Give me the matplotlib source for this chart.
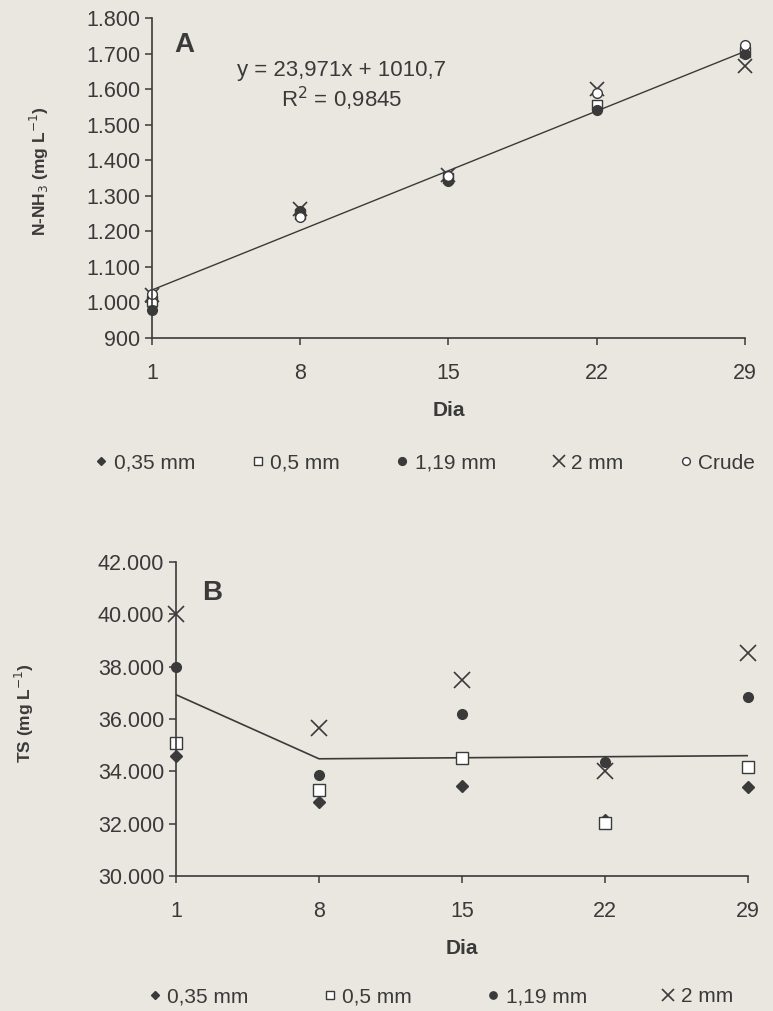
import numpy as np
import matplotlib.pyplot as plt
from matplotlib.ticker import FuncFormatter

plt.rcParams['font.family'] = ['Liberation Sans', 'DejaVu Sans']

days = [1, 8, 15, 22, 29]

# Panel A: N-NH3 (mg/L)
nh3_035 = [990, 1255, 1350, 1550, 1700]
nh3_05 = [1005, 1250, 1350, 1555, 1705]
nh3_119 = [980, 1258, 1342, 1541, 1700]
nh3_2 = [1020, 1264, 1357, 1600, 1665]
nh3_crude = [1025, 1240, 1355, 1588, 1725]
trend_days = [1, 29]
trend_a = [1035, 1706]

# Panel B: TS (mg/L)
ts_035 = [34580, 32810, 33450, 32150, 33390]
ts_05 = [35070, 33270, 34520, 32030, 34150]
ts_119 = [38000, 33850, 36190, 34350, 36860]
ts_2 = [40000, 35650, 37480, 34000, 38540]
line_b = [36930, 34480, 34520, 34560, 34600]

bg = '#e9e7df'
ink = '#3a3a3a'

fig = plt.figure(figsize=(7.73, 10.11), dpi=100, facecolor=bg)


def thousands(v, pos):
    return f'{int(round(v)):,}'.replace(',', '.')


def style_axes(ax):
    ax.set_facecolor(bg)
    for s in ['top', 'right']:
        ax.spines[s].set_visible(False)
    for s in ['left', 'bottom']:
        ax.spines[s].set_color(ink)
        ax.spines[s].set_linewidth(1.2)
    ax.tick_params(colors=ink, labelsize=15.5, length=5, width=1.1)
    ax.tick_params(axis='x', pad=13)
    ax.yaxis.set_major_formatter(FuncFormatter(thousands))
    ax.set_xticks(days)
    ax.set_xlim(1, 29)
    ax.set_xlabel('Dia', fontsize=15, fontweight='bold', color=ink, labelpad=12)


mk = dict(linestyle='none', color=ink, clip_on=False)
leg_kw = dict(loc='center', frameon=False, fontsize=15, handlelength=0.6,
              handletextpad=0.3, labelcolor=ink)

# ---- A ----
ax1 = fig.add_axes([0.1966, 0.6657, 0.767, 0.3165])
style_axes(ax1)
ax1.set_ylim(900, 1800)
ax1.set_yticks(np.arange(900, 1801, 100))
ax1.plot(trend_days, trend_a, color=ink, linewidth=1.0)
h1 = ax1.plot(days, nh3_035, marker='D', markersize=5, label='0,35 mm', **mk)[0]
h2 = ax1.plot(days, nh3_05, marker='s', markersize=7, markerfacecolor='white', label='0,5 mm', **mk)[0]
h3 = ax1.plot(days, nh3_119, marker='o', markersize=7, label='1,19 mm', **mk)[0]
h4 = ax1.plot(days, nh3_2, marker='x', markersize=10, markeredgewidth=1.2, label='2 mm', **mk)[0]
h5 = ax1.plot(days, nh3_crude, marker='o', markersize=7, markerfacecolor='white', label='Crude', **mk)[0]
ax1.set_ylabel('N-NH$_3$ (mg L$^{-1}$)', fontsize=12.5, fontweight='bold', color=ink)
ax1.yaxis.set_label_coords(-0.17, 0.52)
ax1.text(0.037, 0.895, 'A', transform=ax1.transAxes, fontsize=20, fontweight='bold', color=ink)
ax1.text(0.32, 0.82, 'y = 23,971x + 1010,7', transform=ax1.transAxes, fontsize=16,
         color=ink, ha='center')
ax1.text(0.32, 0.72, 'R$^2$ = 0,9845', transform=ax1.transAxes, fontsize=16,
         color=ink, ha='center')
fig.legend(handles=[h1, h2, h3, h4, h5], bbox_to_anchor=(0.55, 0.542), ncol=5,
           columnspacing=2.7, markerscale=0.8, **leg_kw)

# ---- B ----
ax2 = fig.add_axes([0.2277, 0.1335, 0.740, 0.3106])
style_axes(ax2)
ax2.set_ylim(30000, 42000)
ax2.set_yticks(np.arange(30000, 42001, 2000))
ax2.plot(days, line_b, color=ink, linewidth=1.2)
g1 = ax2.plot(days, ts_035, marker='D', markersize=6, label='0,35 mm', **mk)[0]
g2 = ax2.plot(days, ts_05, marker='s', markersize=8, markerfacecolor='white', label='0,5 mm', **mk)[0]
g3 = ax2.plot(days, ts_119, marker='o', markersize=7, label='1,19 mm', **mk)[0]
g4 = ax2.plot(days, ts_2, marker='x', markersize=12, markeredgewidth=1.2, label='2 mm', **mk)[0]
ax2.set_ylabel('TS (mg L$^{-1}$)', fontsize=12.5, fontweight='bold', color=ink)
ax2.yaxis.set_label_coords(-0.245, 0.52)
ax2.text(0.045, 0.88, 'B', transform=ax2.transAxes, fontsize=20, fontweight='bold', color=ink)
fig.legend(handles=[g1, g2, g3, g4], bbox_to_anchor=(0.57, 0.014), ncol=4,
           columnspacing=3.6, markerscale=0.75, **leg_kw)

fig.savefig('out.png', dpi=100, facecolor=bg)
